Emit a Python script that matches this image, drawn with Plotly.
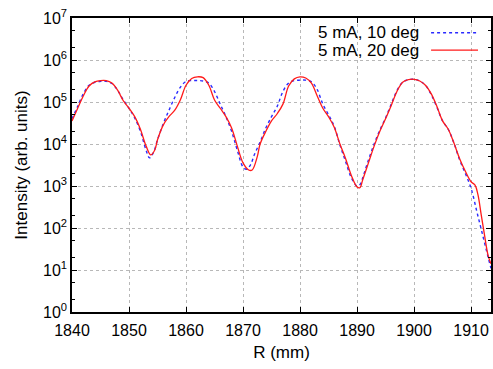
import plotly.graph_objects as go

# R (mm) and intensities
r_10deg = [1840, 1841, 1842, 1843, 1844, 1845, 1846, 1847, 1848, 1849, 1850, 1851, 1852, 1853, 1853.6, 1854.3,
           1855, 1856, 1857, 1858, 1859, 1860, 1861, 1862, 1863, 1864, 1865, 1866, 1867, 1868, 1869, 1870,
           1870.6, 1871.3, 1872, 1873, 1874, 1875, 1876, 1877, 1878, 1879, 1880, 1881, 1882, 1883, 1884, 1885,
           1886, 1887, 1888, 1889, 1890, 1890.6, 1891, 1892, 1893, 1894, 1895, 1896, 1897, 1898, 1899, 1900,
           1901, 1902, 1903, 1904, 1905, 1906, 1907, 1908, 1909, 1910, 1911, 1912, 1913, 1913.5]
i_10deg = [3.98e4, 7.9e4, 1.58e5, 2.51e5, 2.95e5, 3.09e5, 3.09e5, 2.75e5, 1.91e5, 1.12e5, 7.1e4, 4.17e4, 2.0e4,
           7.1e3, 4.68e3, 6.3e3, 1.26e4, 3.02e4, 6.3e4, 1.26e5, 2.24e5, 3.09e5, 3.24e5, 3.24e5, 3.16e5, 2.82e5,
           1.78e5, 8.9e4, 4.47e4, 2.0e4, 7.1e3, 2.82e3, 2.51e3, 3.16e3, 5.6e3, 1.12e4, 2.4e4, 4.47e4, 7.9e4,
           1.78e5, 2.82e5, 3.24e5, 3.31e5, 3.31e5, 3.02e5, 2.0e5, 8.9e4, 5.0e4, 2.63e4, 9.5e3, 3.8e3, 1.58e3,
           1.0e3, 1.12e3, 1.58e3, 4.17e3, 1.0e4, 2.14e4, 4.17e4, 8.9e4, 1.86e5, 2.95e5, 3.39e5, 3.47e5, 3.16e5,
           2.51e5, 1.51e5, 7.6e4, 3.55e4, 2.24e4, 1.05e4, 4.17e3, 2.0e3, 8.9e2, 2.51e2, 71, 20, 11]

r_20deg = [1840, 1841, 1842, 1843, 1844, 1845, 1846, 1847, 1848, 1849, 1850, 1851, 1852, 1853, 1853.8, 1854.5,
           1855, 1856, 1857, 1858, 1859, 1860, 1861, 1862, 1863, 1864, 1865, 1866, 1867, 1868, 1869, 1870,
           1871, 1871.6, 1872.5, 1873, 1874, 1875, 1876, 1877, 1878, 1879, 1880, 1881, 1882, 1883, 1884, 1885,
           1886, 1887, 1888, 1889, 1890, 1890.5, 1891, 1892, 1893, 1894, 1895, 1896, 1897, 1898, 1899, 1900,
           1901, 1902, 1903, 1904, 1905, 1906, 1907, 1908, 1909, 1910, 1910.7, 1911.2, 1911.8, 1912.4, 1913,
           1913.5]
i_20deg = [3.55e4, 7.1e4, 1.41e5, 2.4e5, 3.0e5, 3.24e5, 3.24e5, 2.82e5, 1.91e5, 1.07e5, 7.1e4, 4.47e4, 2.24e4,
           8.9e3, 5.5e3, 7.1e3, 1.26e4, 2.82e4, 4.47e4, 6.3e4, 1.12e5, 2.51e5, 3.63e5, 3.98e5, 3.8e5, 2.51e5,
           1.12e5, 7.1e4, 4.47e4, 2.4e4, 8.9e3, 3.55e3, 2.4e3, 2.4e3, 5.0e3, 1.0e4, 2.0e4, 3.55e4, 5.25e4,
           8.9e4, 2.4e5, 3.55e5, 3.98e5, 3.72e5, 2.82e5, 1.41e5, 7.1e4, 4.47e4, 2.51e4, 1.0e4, 4.47e3, 1.78e3,
           9.5e2, 9.1e2, 1.41e3, 3.55e3, 8.9e3, 2.0e4, 3.98e4, 8.3e4, 1.78e5, 2.95e5, 3.39e5, 3.47e5, 3.16e5,
           2.51e5, 1.58e5, 7.9e4, 3.55e4, 2.24e4, 1.05e4, 4.47e3, 2.24e3, 1.26e3, 1.05e3, 6.3e2, 2.0e2, 63, 22,
           14]

names = ["5 mA, 10 deg", "5 mA, 20 deg"]
x_ticks = [1840, 1850, 1860, 1870, 1880, 1890, 1900, 1910]
y_ticks = [1, 10, 100, 1e3, 1e4, 1e5, 1e6, 1e7]
y_ticktext = ["10<sup>0</sup>", "10<sup>1</sup>", "10<sup>2</sup>", "10<sup>3</sup>",
              "10<sup>4</sup>", "10<sup>5</sup>", "10<sup>6</sup>", "10<sup>7</sup>"]
y_minor = [2, 5, 20, 50, 200, 500, 2e3, 5e3, 2e4, 5e4, 2e5, 5e5, 2e6, 5e6]

FONT = "Liberation Sans, Arial, sans-serif"
BLUE = "#2a2aff"
RED = "#ff1a1a"
blue_line = dict(color=BLUE, width=1.4, dash="dot")
red_line = dict(color=RED, width=1.3)

fig = go.Figure()
fig.add_trace(go.Scatter(x=r_10deg, y=i_10deg, name=names[0], mode="lines", line_shape="spline",
                         line=blue_line, showlegend=False))
fig.add_trace(go.Scatter(x=r_20deg, y=i_20deg, name=names[1], mode="lines", line_shape="spline",
                         line=red_line, showlegend=False))

# gnuplot-style key: text right-aligned, sample line to the right
key_rows = [0.95, 0.891]
for nm, yy, st in zip(names, key_rows, [blue_line, red_line]):
    fig.add_annotation(x=0.834, y=yy, xref="paper", yref="paper", text=nm, showarrow=False,
                       xanchor="right", yanchor="middle", font=dict(size=17, color="black", family=FONT))
    fig.add_shape(type="line", xref="paper", yref="paper", x0=0.857, x1=0.969, y0=yy, y1=yy, line=st)

fig.update_xaxes(range=[1840, 1913.5], tickvals=x_ticks, ticks="inside", ticklen=5, tickcolor="black",
                 showline=True, linecolor="black", linewidth=1.5, mirror="ticks", ticklabelstandoff=3,
                 showgrid=True, gridcolor="#b8b8b8", griddash="dot", gridwidth=1, zeroline=False,
                 title=dict(text="R (mm)", font=dict(size=17, family=FONT, color="black"), standoff=8),
                 tickfont=dict(size=16, family=FONT, color="black"))
fig.update_yaxes(type="log", range=[0, 7], tickvals=y_ticks, ticktext=y_ticktext, ticks="inside", ticklen=5,
                 tickcolor="black", showline=True, linecolor="black", linewidth=1.5, mirror="ticks",
                 showgrid=True, gridcolor="#b8b8b8", griddash="dot", gridwidth=1, zeroline=False,
                 minor=dict(tickvals=y_minor, ticks="inside", ticklen=3, tickcolor="black", showgrid=False),
                 title=dict(text="Intensity (arb. units)", font=dict(size=17, family=FONT, color="black"),
                            standoff=11),
                 tickfont=dict(size=16, family=FONT, color="black"))

fig.update_layout(width=493, height=369, margin=dict(l=72, r=0, t=18, b=57),
                  paper_bgcolor="white", plot_bgcolor="white", font=dict(family=FONT, color="black"))

fig.write_html("out.html", config={"displayModeBar": False},
               post_script="document.body.style.margin='0';")
